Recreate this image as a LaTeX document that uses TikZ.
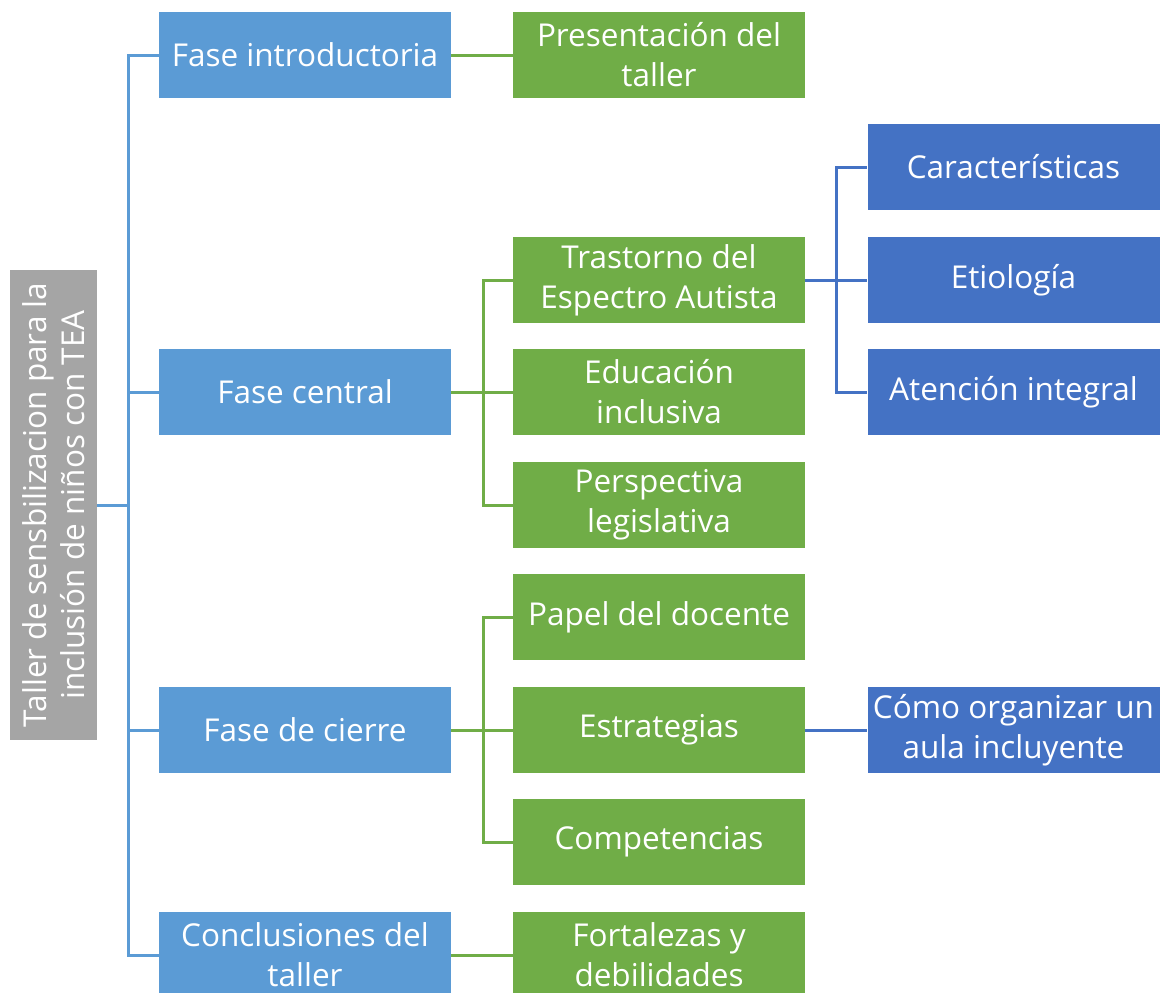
\documentclass[tikz,border=0pt]{standalone}
\usepackage{fontspec}
\setmainfont{Open Sans}
\definecolor{lblue}{HTML}{5B9BD5}
\definecolor{dgreen}{HTML}{70AD47}
\definecolor{dblue}{HTML}{4472C4}
\definecolor{rgray}{HTML}{A5A5A5}
\begin{document}
\begin{tikzpicture}[x=1bp,y=-1bp,
  box/.style={minimum width=292bp,minimum height=86bp,inner sep=0pt,align=center,text=white,
    font=\fontsize{31.5bp}{40bp}\selectfont},
  lvone/.style={box,fill=lblue},
  lvtwo/.style={box,fill=dgreen},
  lvthree/.style={box,fill=dblue},
  lb/.style={draw=lblue,line width=3bp},
  lg/.style={draw=dgreen,line width=3bp},
  ld/.style={draw=dblue,line width=3bp}]
\useasboundingbox (0,0) rectangle (1161,993);
\clip (0,0) rectangle (1161,993);
\node[fill=rgray,text=white,rotate=90,minimum width=470bp,minimum height=87bp,inner sep=0pt,align=center,
  font=\fontsize{31.5bp}{38bp}\selectfont] (root) at (53.5,505) {Taller de sensbilizacion para la\\inclusión de niños con TEA};
% level 1
\node[lvone] (intro) at (305,55) {Fase introductoria};
\node[lvone] (central) at (305,392) {Fase central};
\node[lvone] (cierre) at (305,730) {Fase de cierre};
\node[lvone] (concl) at (305,955) {Conclusiones del\\taller};
% level 2
\node[lvtwo] (pres) at (659,55) {Presentación del\\taller};
\node[lvtwo] (tea) at (659,280) {Trastorno del\\Espectro Autista};
\node[lvtwo] (edu) at (659,392) {Educación\\inclusiva};
\node[lvtwo] (persp) at (659,505) {Perspectiva\\legislativa};
\node[lvtwo] (papel) at (659,617) {Papel del docente};
\node[lvtwo] (estr) at (659,730) {Estrategias};
\node[lvtwo] (comp) at (659,842) {Competencias};
\node[lvtwo] (fort) at (659,955) {Fortalezas y\\debilidades};
% level 3
\node[lvthree] (car) at (1013.5,167) {Características};
\node[lvthree] (eti) at (1013.5,280) {Etiología};
\node[lvthree] (aten) at (1013.5,392) {Atención integral};
\node[lvthree] (aula) at (1013.5,730) {Cómo organizar un\\aula incluyente};
% connectors
\coordinate (b1) at (128,505);
\draw[lb] (root.south) -- (b1);
\foreach \n in {intro,central,cierre,concl} \draw[lb] (b1) |- (\n.west);
\draw[lg] (intro.east) -- (pres.west);
\coordinate (b2) at (483,392);
\draw[lg] (central.east) -- (b2);
\foreach \n in {tea,edu,persp} \draw[lg] (b2) |- (\n.west);
\coordinate (b3) at (483,730);
\draw[lg] (cierre.east) -- (b3);
\foreach \n in {papel,estr,comp} \draw[lg] (b3) |- (\n.west);
\draw[lg] (concl.east) -- (fort.west);
\coordinate (b4) at (836,280);
\draw[ld] (tea.east) -- (b4);
\foreach \n in {car,eti,aten} \draw[ld] (b4) |- (\n.west);
\draw[ld] (estr.east) -- (aula.west);
\end{tikzpicture}
\end{document}
